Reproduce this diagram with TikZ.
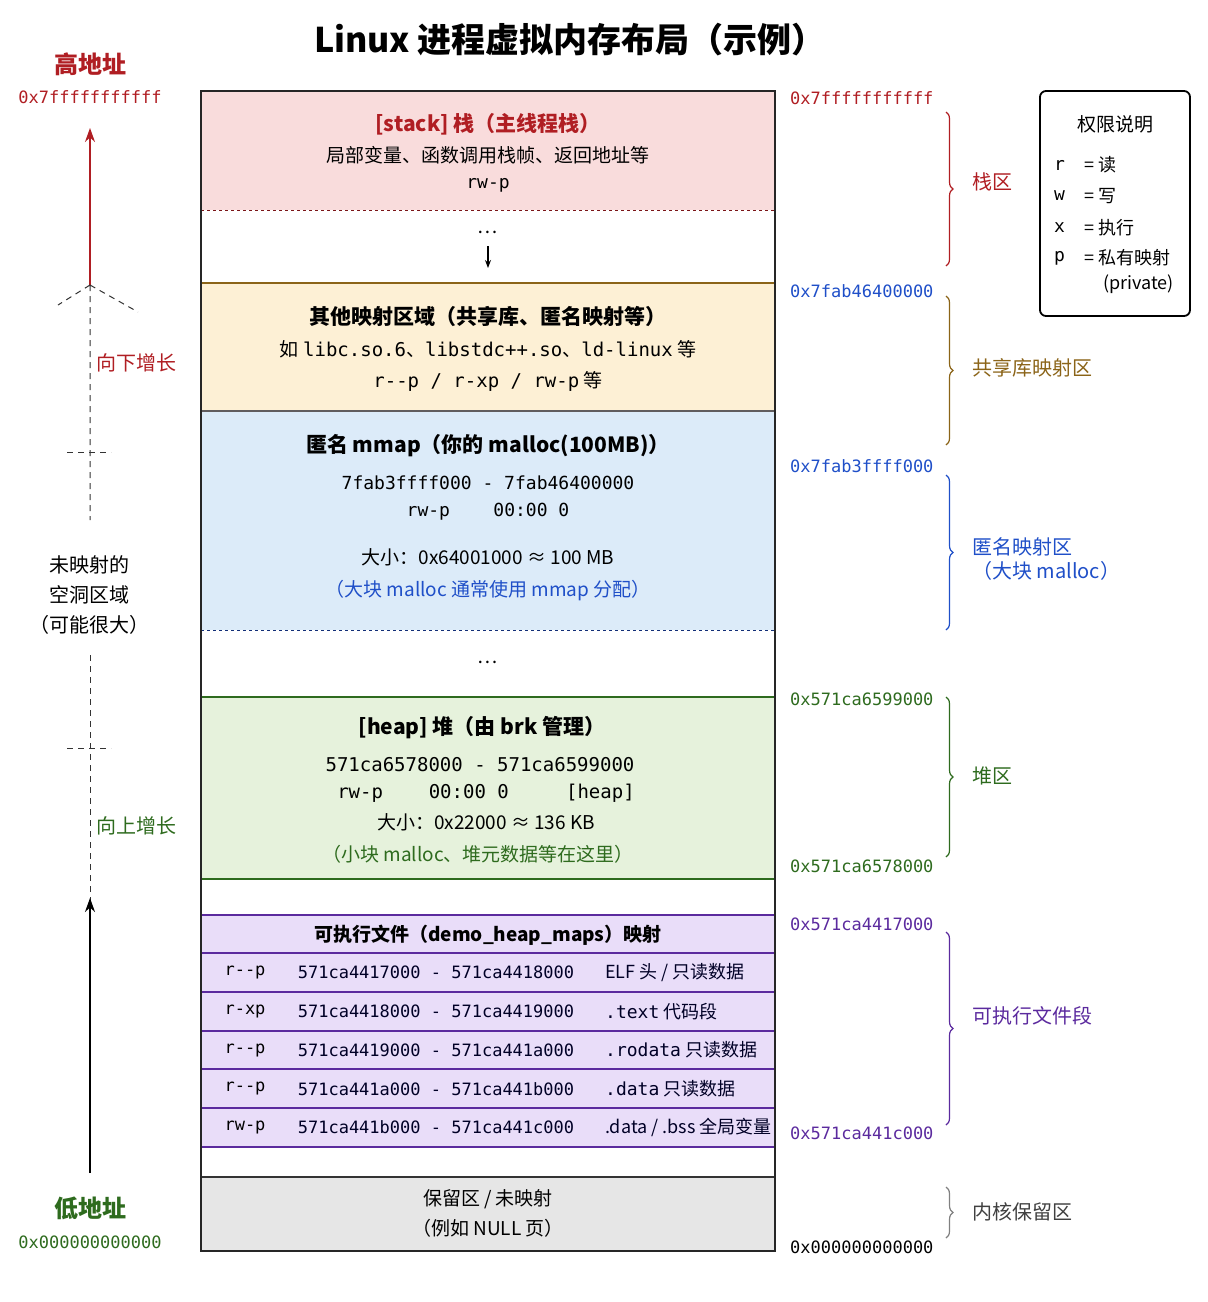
\documentclass[tikz,border=0pt]{standalone}
\usepackage{fontspec}
\setmainfont{Noto Sans CJK SC}
\newfontfamily\mono{DejaVu Sans Mono}
\usetikzlibrary{decorations.pathreplacing,arrows.meta}
\definecolor{cred}{HTML}{B01E23}
\definecolor{cblue}{HTML}{1F4FC8}
\definecolor{cbrown}{HTML}{8B6418}
\definecolor{cgreen}{HTML}{2E6B1E}
\definecolor{cpurple}{HTML}{5B2A9E}
\definecolor{fred}{HTML}{F9DCDC}
\definecolor{fyel}{HTML}{FDF0D5}
\definecolor{fblue}{HTML}{DCEBF9}
\definecolor{fgreen}{HTML}{E6F2DC}
\definecolor{fpur}{HTML}{E9DDF9}
\definecolor{fgray}{HTML}{E6E6E6}
\begin{document}
\begin{tikzpicture}[x=1pt,y=-1pt,
  t/.style={font=\fontsize{19}{22}\selectfont, inner sep=0pt},
  tb/.style={font=\fontsize{21}{24}\selectfont\bfseries, inner sep=0pt},
  m/.style={font=\fontsize{18}{22}\selectfont\mono, inner sep=0pt},
  addr/.style={font=\fontsize{17}{20}\selectfont\mono, inner sep=0pt, anchor=west},
  br/.style={decorate,decoration={brace,amplitude=7pt},line width=1.2pt},
  lab/.style={font=\fontsize{20}{24}\selectfont, inner sep=0pt, anchor=west},
  dsh/.style={dashed, dash pattern=on 6pt off 5pt, gray!40!black, line width=1pt}]
\useasboundingbox (0,0) rectangle (1208,1302);
\node[font=\fontsize{34}{38}\selectfont\bfseries] (title) at (570,40) {Linux 进程虚拟内存布局（示例）};
% regions
\fill[fred] (201,91) rectangle (775,210);
\fill[fyel] (201,283) rectangle (775,411);
\fill[fblue] (201,411) rectangle (775,630);
\fill[fgreen] (201,697) rectangle (775,879);
\fill[fpur] (201,915) rectangle (775,1147);
\fill[fgray] (201,1177) rectangle (775,1251);
\draw[cred!70!black,dashed,line width=0.8pt] (201,210) -- (775,210);
\draw[cbrown,line width=1.2pt] (201,283) -- (775,283);
\draw[cbrown!60!cblue,line width=1.2pt] (201,411) -- (775,411);
\draw[cblue!60!black,dashed,line width=0.8pt] (201,630) -- (775,630);
\draw[cgreen,line width=1.2pt] (201,697) -- (775,697) (201,879) -- (775,879);
\draw[cpurple,line width=1.5pt] (201,915) rectangle (775,1147);
\foreach \y in {953,992,1031,1069,1108} \draw[cpurple,line width=1.3pt] (201,\y) -- (775,\y);
\draw[black!80,line width=1.2pt] (201,1177) -- (775,1177);
\draw[black!85,line width=1.8pt] (201,91) rectangle (775,1251);
% stack
\node[tb,text=cred] (st) at (488,124) {[stack] 栈（主线程栈）};
\node[t] (st2) at (488,155) {局部变量、函数调用栈帧、返回地址等};
\node[m] (st3) at (488,185) {rw-p};
\node[t] (dots1) at (488,232) {…};
\coordinate (da) at (488,246); \coordinate (db) at (488,268);
\draw[-{Stealth[length=8pt]},line width=1.2pt] (da) -- (db);
% shared
\node[tb] (sh) at (488,316) {其他映射区域（共享库、匿名映射等）};
\node[t] (sh2) at (488,349) {如 {\mono libc.so.6}、{\mono libstdc++.so}、{\mono ld-linux} 等};
\node[t] (sh3) at (488,381) {{\mono r--p / r-xp / rw-p} 等};
% anon
\node[tb] (an) at (488,446) {匿名 mmap（你的 malloc(100MB)）};
\node[m] (an2) at (488,483) {7fab3ffff000 - 7fab46400000};
\node[m] (an3) at (488,512) {rw-p\ \ \ \ 00:00 0};
\node[t] (an4) at (488,557) {大小：0x64001000 ≈ 100 MB};
\node[t,text=cblue] (an5) at (488,591) {（大块 malloc 通常使用 mmap 分配）};
\node[t] (dots2) at (488,662) {…};
% heap
\node[tb] (hp) at (482,728) {[heap] 堆（由 brk 管理）};
\node[m,font=\fontsize{19}{22}\selectfont\mono] (hp2) at (480,765) {571ca6578000 - 571ca6599000};
\node[m,font=\fontsize{19}{22}\selectfont\mono] (hp3) at (486,793) {rw-p\ \ \ \ 00:00 0\ \ \ \ \ [heap]};
\node[t] (hp4) at (486,822) {大小：0x22000 ≈ 136 KB};
\node[t,text=cgreen] (hp5) at (478,854) {（小块 malloc、堆元数据等在这里）};
% exec
\node[font=\fontsize{19}{22}\selectfont\bfseries,inner sep=0pt] (ex) at (488,935) {可执行文件（demo\_heap\_maps）映射};
\foreach \p/\a/\d [count=\i] in {r--p/571ca4417000 - 571ca4418000/{ELF 头 {/} 只读数据},
  r-xp/571ca4418000 - 571ca4419000/{{\mono .text} 代码段},
  r--p/571ca4419000 - 571ca441a000/{{\mono .rodata} 只读数据},
  r--p/571ca441a000 - 571ca441b000/{{\mono .data} 只读数据},
  rw-p/571ca441b000 - 571ca441c000/{.data {/} .bss 全局变量}}{
  \pgfmathsetmacro{\yy}{953+38.8*(\i-1)+19.4}
  \node[m,font=\fontsize{17}{20}\selectfont\mono] (p\i) at (245,\yy) {\p};
  \node[m,font=\fontsize{17}{20}\selectfont\mono,text=black!85!blue] (a\i) at (436,\yy) {\a};
  \node[t,font=\fontsize{18}{20}\selectfont,anchor=west,text=black!85!blue] (d\i) at (605,\yy) {\d};
}
% reserved
\node[t] (rs) at (488,1199) {保留区 / 未映射};
\node[t] (rs2) at (488,1228) {（例如 NULL 页）};
% right addresses
\node[addr,text=cred] (r1) at (790,98) {0x7fffffffffff};
\node[addr,text=cblue] (r2) at (790,291) {0x7fab46400000};
\node[addr,text=cblue] (r3) at (790,466) {0x7fab3ffff000};
\node[addr,text=cgreen] (r4) at (790,699) {0x571ca6599000};
\node[addr,text=cgreen] (r5) at (790,866) {0x571ca6578000};
\node[addr,text=cpurple] (r6) at (790,924) {0x571ca4417000};
\node[addr,text=cpurple] (r7) at (790,1133) {0x571ca441c000};
\node[addr] (r8) at (790,1247) {0x000000000000};
% braces
\coordinate (b1a) at (946,112); \coordinate (b1b) at (946,266);
\coordinate (b2a) at (946,296); \coordinate (b2b) at (946,445);
\coordinate (b3a) at (946,475); \coordinate (b3b) at (946,630);
\coordinate (b4a) at (946,697); \coordinate (b4b) at (946,857);
\coordinate (b5a) at (946,932); \coordinate (b5b) at (946,1125);
\coordinate (b6a) at (946,1187); \coordinate (b6b) at (946,1238);
\draw[br,cred] (b1a) -- (b1b);
\draw[br,cbrown] (b2a) -- (b2b);
\draw[br,cblue] (b3a) -- (b3b);
\draw[br,cgreen] (b4a) -- (b4b);
\draw[br,cpurple] (b5a) -- (b5b);
\draw[br,gray] (b6a) -- (b6b);
\node[lab,text=cred] (l1) at (972,182) {栈区};
\node[lab,text=cbrown] (l2) at (972,368) {共享库映射区};
\node[lab,text=cblue,align=left] (l3) at (972,559) {匿名映射区\\（大块 malloc）};
\node[lab,text=cgreen] (l4) at (972,776) {堆区};
\node[lab,text=cpurple] (l5) at (972,1016) {可执行文件段};
\node[lab,text=black!75] (l6) at (972,1212) {内核保留区};
% legend
\draw[line width=1.8pt,rounded corners=6pt] (1040,91) rectangle (1190,316);
\node[t,font=\fontsize{19}{22}\selectfont] (lg) at (1115,124) {权限说明};
\foreach \k/\v/\y in {r/读/165,w/写/196,x/执行/228,p/私有映射/258}{
  \node[m,anchor=west] at (1054,\y) {\k};
  \node[t,anchor=west,font=\fontsize{18}{22}\selectfont] at (1084,\y) {= \v};
}
\node[t,anchor=west,font=\fontsize{18}{22}\selectfont] (lgp) at (1103,284) {(private)};
% left
\node[tb,text=cred,font=\fontsize{24}{28}\selectfont\bfseries] (hi) at (90,64) {高地址};
\node[addr,anchor=center,text=cred] (hia) at (90,97) {0x7fffffffffff};
\coordinate (ua) at (90,285); \coordinate (ub) at (90,128);
\draw[cred,line width=1.8pt,-{Stealth[length=14pt,width=10pt]}] (ua) -- (ub);
\draw[dsh] (ua) -- (58,305) (ua) -- (138,312) (ua) -- (90,520);
\draw[dsh] (67,452) -- (111,452);
\node[lab,anchor=center,text=cred] (dn) at (136,363) {向下增长};
\node[lab,anchor=center,align=center] (hole) at (90,595) {未映射的\\[6pt]空洞区域\\[6pt]（可能很大）};
\draw[dsh] (90,655) -- (90,900);
\draw[dsh] (67,748) -- (111,748);
\node[lab,anchor=center,text=cgreen] (upl) at (136,826) {向上增长};
\coordinate (la) at (90,1173); \coordinate (lb) at (90,898);
\draw[black,line width=1.8pt,-{Stealth[length=14pt,width=10pt]}] (la) -- (lb);
\node[tb,text=cgreen,font=\fontsize{24}{28}\selectfont\bfseries] (lo) at (90,1208) {低地址};
\node[addr,anchor=center,text=cgreen] (loa) at (90,1242) {0x000000000000};
\end{tikzpicture}
\end{document}
